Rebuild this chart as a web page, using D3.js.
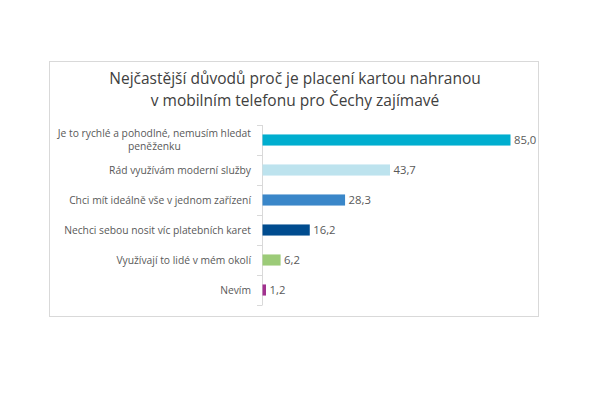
<!DOCTYPE html>
<html><head><meta charset="utf-8">
<script src="https://cdn.jsdelivr.net/npm/d3@7"></script>
<style>body{margin:0;background:#fff}svg{display:block}</style>
</head><body>
<svg id="c" width="607" height="397"></svg>
<script>
const titleLines = ["Nejčastější důvodů proč je placení kartou nahranou", "v mobilním telefonu pro Čechy zajímavé"];
const categories = [
  ["Je to rychlé a pohodlné, nemusím hledat", "peněženku"],
  ["Rád využívám moderní služby"],
  ["Chci mít ideálně vše v jednom zařízení"],
  ["Nechci sebou nosit víc platebních karet"],
  ["Využívají to lidé v mém okolí"],
  ["Nevím"]
];
const values = [85.0, 43.7, 28.3, 16.2, 6.2, 1.2];
const colors = ["#00AECF", "#BDE3EE", "#3A87C9", "#004C8F", "#9CCB78", "#A2328F"];

const svg = d3.select("#c");
const font = "'Open Sans', 'Noto Sans', sans-serif";
svg.append("rect").attr("x",49.5).attr("y",61.5).attr("width",489).attr("height",255)
  .attr("fill","#fff").attr("stroke","#D9D9D9").attr("stroke-width",1);

svg.append("g").selectAll("text").data(titleLines).join("text")
  .attr("x",295).attr("y",(d,i)=>84+i*22).attr("text-anchor","middle")
  .attr("font-family",font).attr("font-size",15.5).attr("fill","#404040").text(d=>d);

const idx = d3.range(categories.length);
const y = d3.scaleBand().domain(idx).range([125,305]).paddingInner(0.63).paddingOuter(0.315);
const x = d3.scaleLinear().domain([0,85]).range([262,510]);

const axisG = svg.append("g");
axisG.append("line").attr("x1",262.5).attr("x2",262.5).attr("y1",125).attr("y2",305)
  .attr("stroke","#D9D9D9");
const tickYs = d3.range(categories.length+1).map(i=>125+i*(180/categories.length));
axisG.selectAll(".t").data(tickYs).join("line")
  .attr("x1",257).attr("x2",262.5).attr("y1",d=>Math.round(d)+0.5).attr("y2",d=>Math.round(d)+0.5)
  .attr("stroke","#D9D9D9");

svg.append("g").selectAll("rect").data(values).join("rect")
  .attr("x",x(0)+0.5).attr("y",(d,i)=>y(i)).attr("height",y.bandwidth())
  .attr("width",d=>x(d)-x(0)).attr("fill",(d,i)=>colors[i]);

svg.append("g").selectAll("text").data(values).join("text")
  .attr("x",d=>x(d)+4).attr("y",(d,i)=>y(i)+y.bandwidth()/2+4)
  .attr("font-family",font).attr("font-size",11.3).attr("fill","#595959")
  .text(d=>d.toFixed(1).replace(".",","));

const labG = svg.append("g");
const labRight = 251;
categories.forEach((lines,i)=>{
  const cy = y(i)+y.bandwidth()/2;
  const n = lines.length;
  const t = labG.append("text")
    .attr("font-family",font).attr("font-size",10.3).attr("fill","#595959")
    .attr("text-anchor", n>1 ? "middle" : "end")
    .attr("x", labRight);
  lines.forEach((line,j)=>{
    t.append("tspan").attr("x", labRight).attr("y",cy+3.5+(j-(n-1)/2)*13).text(line);
  });
  if (n>1) {
    const w = d3.max(t.selectAll("tspan").nodes(), nd=>nd.getComputedTextLength());
    t.selectAll("tspan").attr("x", labRight - w/2);
  }
});
</script>
</body></html>
